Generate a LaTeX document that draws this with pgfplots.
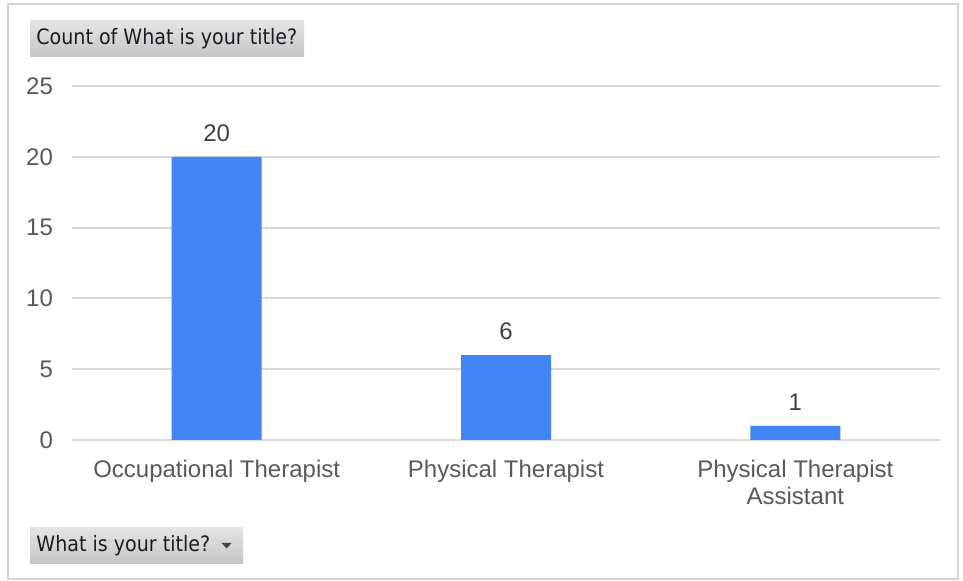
\documentclass[border=0pt]{standalone}
\usepackage{pgfplots}
\pgfplotsset{compat=1.18}
\usepackage{fontspec}
\setmainfont{Liberation Sans}
\newfontfamily\btnfont{DejaVu Sans Condensed}

\definecolor{barblue}{HTML}{4285F4}
\definecolor{gridgray}{HTML}{D9D9D9}
\definecolor{framegray}{HTML}{D4D4D4}
\definecolor{ticktext}{HTML}{595959}
\definecolor{valtext}{HTML}{404040}
\definecolor{btntop}{HTML}{E4E4E4}
\definecolor{btnbot}{HTML}{C4C4C4}
\definecolor{btntext}{HTML}{1C1C24}

\pgfplotstableread{
x count
0 20
1 6
2 1
}\titlecounts

\begin{document}
\begin{tikzpicture}
\useasboundingbox (0,0) rectangle (481.5pt,290.5pt);
% outer frame
\draw[framegray, line width=1pt] (4pt,1pt) rectangle (479pt,288.5pt);

\begin{axis}[
  at={(36pt,70.5pt)}, anchor=south west,
  scale only axis, width=434pt, height=177pt,
  xmin=-0.5, xmax=2.5, ymin=0, ymax=25,
  ytick={0,5,...,25},
  xtick={0,1,2},
  xticklabels={Occupational Therapist, Physical Therapist, {Physical Therapist\\Assistant}},
  axis line style={draw=none},
  major tick length=0pt,
  ymajorgrids, grid style={gridgray, line width=1pt},
  /pgf/number format/assume math mode=true,
  yticklabel style={font=\fontsize{12}{14}\selectfont, text=ticktext, anchor=east, xshift=-6pt},
  xticklabel style={font=\fontsize{12}{13.5}\selectfont, text=ticktext, align=center, anchor=north, yshift=-6.5pt},
  ybar, bar width=45pt,
  nodes near coords,
  nodes near coords style={font=\fontsize{12}{14}\selectfont, text=valtext, yshift=4pt},
  clip=false,
]
\addplot[fill=barblue, draw=none] table[x=x, y=count] {\titlecounts};
\end{axis}

% field buttons
\shade[top color=btntop, bottom color=btnbot] (15pt,262pt) rectangle (152pt,280pt);
\node[anchor=west, inner sep=0pt, text=btntext, font=\btnfont\fontsize{10.6}{13}\selectfont] at (18pt,271pt) {Count of What is your title?};
\shade[top color=btntop, bottom color=btnbot] (15pt,8.5pt) rectangle (121.5pt,26.5pt);
\node[anchor=west, inner sep=0pt, text=btntext, font=\btnfont\fontsize{10.6}{13}\selectfont] at (18pt,17.5pt) {What is your title?};
\fill[btntext!85] (110.8pt,19pt) -- (115.8pt,19pt) -- (113.3pt,16.3pt) -- cycle;
\end{tikzpicture}
\end{document}
